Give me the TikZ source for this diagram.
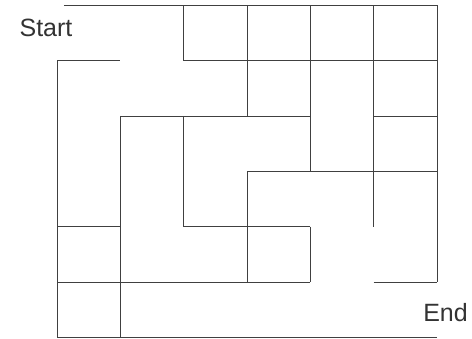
\documentclass[tikz,border=0pt]{standalone}
\usepackage{fontspec}
\setmainfont{Liberation Sans}
\begin{document}
\begin{tikzpicture}[x=1pt,y=-1pt,
  wall/.style={draw=black!75, line width=0.9pt},
  lbl/.style={text=black!80, font=\fontsize{25}{30}\selectfont, inner sep=0pt, anchor=base}]
\useasboundingbox (0,0) rectangle (472,338);
\begin{scope}[shift={(57pt,-5.3pt)}, x=63.333pt, y=-55.333pt]
  % horizontal walls
  \draw[wall] (0.11,0) -- (6,0);
  \draw[wall] (0,1) -- (1,1) (2,1) -- (6,1);
  \draw[wall] (1,2) -- (4,2) (5,2) -- (6,2);
  \draw[wall] (3,3) -- (6,3);
  \draw[wall] (0,4) -- (1,4) (2,4) -- (4,4);
  \draw[wall] (0,5) -- (4,5) (5,5) -- (6,5);
  \draw[wall] (0,6) -- (6,6);
  % vertical walls
  \draw[wall] (0,1) -- (0,6);
  \draw[wall] (1,2) -- (1,6);
  \draw[wall] (2,0) -- (2,1) (2,2) -- (2,4);
  \draw[wall] (3,0) -- (3,2) (3,3) -- (3,5);
  \draw[wall] (4,0) -- (4,3) (4,4) -- (4,5);
  \draw[wall] (5,0) -- (5,4);
  \draw[wall] (6,0) -- (6,5);
\end{scope}
\node[lbl] (start) at (46,36.5) {Start};
\node[lbl] (end) at (445.5,321.5) {End};
\end{tikzpicture}
\end{document}
